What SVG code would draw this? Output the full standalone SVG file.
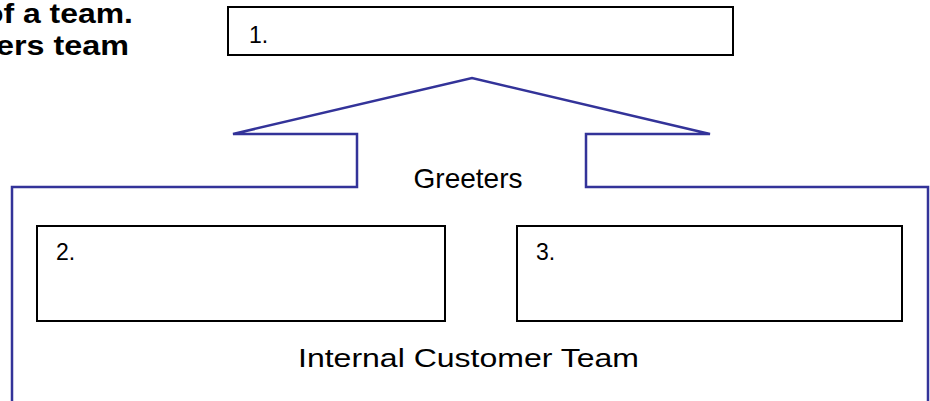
<svg xmlns="http://www.w3.org/2000/svg" width="930" height="401" viewBox="0 0 930 401">
  <style>
    .box { fill: #ffffff; stroke: #000000; stroke-width: 2; }
    .outline { fill: none; stroke: #333399; stroke-width: 2.5; stroke-linejoin: miter; }
    .label { font-family: "Liberation Sans", Arial, sans-serif; fill: #000000; }
    .num { font-family: "Liberation Sans", Arial, sans-serif; fill: #000000; font-size: 23px; }
    .intro { font-family: "Liberation Sans", Arial, sans-serif; font-weight: bold; font-size: 27px; fill: #000000; }
  </style>
  <rect width="930" height="401" fill="#ffffff"/>

  <!-- lead-in text, clipped at the left edge -->
  <g id="intro-text">
    <text class="intro" x="-16" y="23" textLength="149" lengthAdjust="spacingAndGlyphs">of a team.</text>
    <text class="intro" x="-4" y="55" textLength="133" lengthAdjust="spacingAndGlyphs">ers team</text>
  </g>

  <!-- connectors: arrow-shaped outline around the team -->
  <g id="connectors">
    <path class="outline" d="M12,401 V187 H357 V134 H233 L472,78 L710,134 H586 V187 H928 V401"/>
  </g>

  <g id="node-1">
    <rect class="box" x="228" y="7" width="505" height="48"/>
    <text class="num" x="249" y="43">1.</text>
  </g>

  <g id="node-greeters">
    <text class="label" x="468" y="188" font-size="28" text-anchor="middle">Greeters</text>
  </g>

  <g id="node-2">
    <rect class="box" x="37" y="226" width="408" height="95"/>
    <text class="num" x="56" y="260">2.</text>
  </g>

  <g id="node-3">
    <rect class="box" x="517" y="226" width="385" height="95"/>
    <text class="num" x="536" y="260">3.</text>
  </g>

  <g id="node-internal">
    <text class="label" x="298" y="367" font-size="26" textLength="341" lengthAdjust="spacingAndGlyphs">Internal Customer Team</text>
  </g>
</svg>
